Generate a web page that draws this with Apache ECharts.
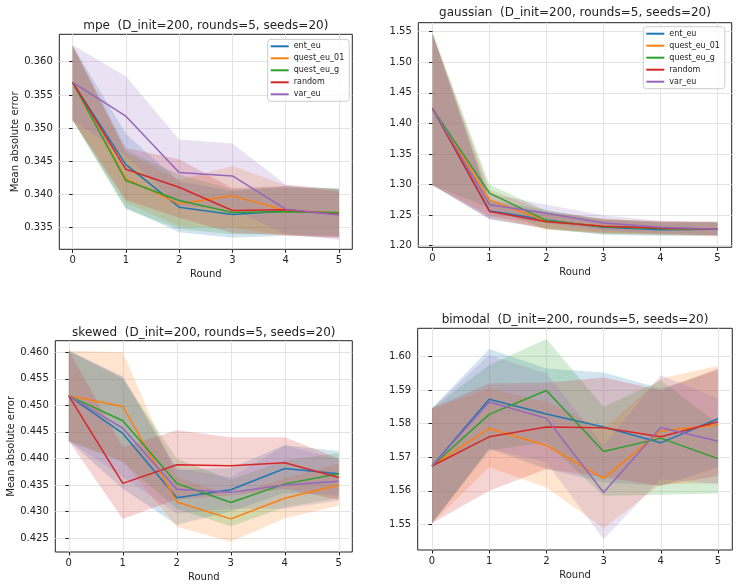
<!DOCTYPE html>
<html>
<head>
<meta charset="utf-8">
<title>Mean absolute error per round</title>
<script src="https://cdn.jsdelivr.net/npm/echarts@6/dist/echarts.min.js"></script>
<style>
  html, body { margin: 0; padding: 0; background: #fff; }
  #chart { width: 739px; height: 587px; }
</style>
</head>
<body>
<div id="chart"></div>
<script>
// data (rows follow methods order)
const rounds = [0, 1, 2, 3, 4, 5]
const methods = ['ent_eu', 'quest_eu_01', 'quest_eu_g', 'random', 'var_eu']
const titles = [
  'mpe  (D_init=200, rounds=5, seeds=20)',
  'gaussian  (D_init=200, rounds=5, seeds=20)',
  'skewed  (D_init=200, rounds=5, seeds=20)',
  'bimodal  (D_init=200, rounds=5, seeds=20)',
]

const mpeTicks = [0.335, 0.340, 0.345, 0.350, 0.355, 0.360]
const mpeMean = [
  [0.3569, 0.3445, 0.3381, 0.3370, 0.3375, 0.3371],
  [0.3569, 0.3424, 0.3386, 0.3398, 0.3376, 0.3372],
  [0.3569, 0.3421, 0.3391, 0.3373, 0.3374, 0.3373],
  [0.3569, 0.3438, 0.3411, 0.3376, 0.3377, 0.3370],
  [0.3569, 0.3518, 0.3433, 0.3428, 0.3378, 0.3369],
]
const mpeLower = [
  [0.3512, 0.3380, 0.3343, 0.3335, 0.3338, 0.3336],
  [0.3512, 0.3388, 0.3352, 0.3350, 0.3338, 0.3336],
  [0.3512, 0.3378, 0.3348, 0.3340, 0.3340, 0.3338],
  [0.3512, 0.3392, 0.3365, 0.3342, 0.3339, 0.3334],
  [0.3512, 0.3458, 0.3383, 0.3378, 0.3340, 0.3332],
]
const mpeUpper = [
  [0.3624, 0.3491, 0.3420, 0.3405, 0.3413, 0.3408],
  [0.3624, 0.3463, 0.3422, 0.3443, 0.3414, 0.3408],
  [0.3624, 0.3466, 0.3430, 0.3408, 0.3410, 0.3410],
  [0.3624, 0.3470, 0.3453, 0.3410, 0.3413, 0.3405],
  [0.3625, 0.3578, 0.3483, 0.3477, 0.3415, 0.3408],
]

const gaussTicks = [1.20, 1.25, 1.30, 1.35, 1.40, 1.45, 1.50, 1.55]
const gaussMean = [
  [1.424, 1.257, 1.242, 1.230, 1.226, 1.227],
  [1.424, 1.275, 1.240, 1.232, 1.228, 1.227],
  [1.424, 1.286, 1.241, 1.231, 1.228, 1.227],
  [1.424, 1.256, 1.239, 1.232, 1.229, 1.227],
  [1.424, 1.267, 1.253, 1.237, 1.230, 1.227],
]
const gaussLower = [
  [1.299, 1.243, 1.228, 1.218, 1.216, 1.216],
  [1.299, 1.250, 1.226, 1.220, 1.218, 1.215],
  [1.299, 1.262, 1.227, 1.219, 1.218, 1.217],
  [1.299, 1.244, 1.228, 1.221, 1.219, 1.217],
  [1.299, 1.247, 1.237, 1.225, 1.220, 1.217],
]
const gaussUpper = [
  [1.547, 1.275, 1.258, 1.242, 1.238, 1.238],
  [1.547, 1.292, 1.256, 1.244, 1.239, 1.239],
  [1.548, 1.300, 1.257, 1.244, 1.239, 1.239],
  [1.547, 1.272, 1.254, 1.243, 1.240, 1.238],
  [1.546, 1.285, 1.267, 1.250, 1.241, 1.239],
]

const skewTicks = [0.425, 0.430, 0.435, 0.440, 0.445, 0.450, 0.455, 0.460]
const skewMean = [
  [0.4518, 0.4447, 0.4326, 0.4341, 0.4381, 0.4371],
  [0.4518, 0.4498, 0.4318, 0.4286, 0.4325, 0.4350],
  [0.4518, 0.4471, 0.4353, 0.4317, 0.4352, 0.4371],
  [0.4518, 0.4353, 0.4388, 0.4386, 0.4392, 0.4364],
  [0.4518, 0.4457, 0.4342, 0.4336, 0.4350, 0.4357],
]
const skewLower = [
  [0.4433, 0.4343, 0.4275, 0.4300, 0.4335, 0.4330],
  [0.4433, 0.4395, 0.4271, 0.4243, 0.4287, 0.4311],
  [0.4433, 0.4393, 0.4305, 0.4272, 0.4308, 0.4325],
  [0.4433, 0.4286, 0.4323, 0.4330, 0.4343, 0.4322],
  [0.4433, 0.4365, 0.4296, 0.4305, 0.4305, 0.4320],
]
const skewUpper = [
  [0.4603, 0.4553, 0.4378, 0.4382, 0.4425, 0.4414],
  [0.4603, 0.4600, 0.4365, 0.4330, 0.4362, 0.4390],
  [0.4603, 0.4550, 0.4400, 0.4360, 0.4396, 0.4410],
  [0.4603, 0.4421, 0.4453, 0.4440, 0.4440, 0.4400],
  [0.4603, 0.4555, 0.4382, 0.4364, 0.4425, 0.4398],
]

const bimoTicks = [1.55, 1.56, 1.57, 1.58, 1.59, 1.60]
const bimoMean = [
  [1.5674, 1.5873, 1.5829, 1.5790, 1.5743, 1.5815],
  [1.5674, 1.5786, 1.5735, 1.5637, 1.5778, 1.5797],
  [1.5674, 1.5828, 1.5899, 1.5717, 1.5757, 1.5696],
  [1.5674, 1.5761, 1.5790, 1.5788, 1.5761, 1.5806],
  [1.5674, 1.5865, 1.5816, 1.5595, 1.5789, 1.5748],
]
const bimoLower = [
  [1.5503, 1.5725, 1.5665, 1.5625, 1.5615, 1.5670],
  [1.5503, 1.5670, 1.5610, 1.5488, 1.5620, 1.5622],
  [1.5503, 1.5720, 1.5745, 1.5585, 1.5588, 1.5592],
  [1.5503, 1.5600, 1.5665, 1.5640, 1.5615, 1.5645],
  [1.5503, 1.5725, 1.5685, 1.5455, 1.5635, 1.5620],
]
const bimoUpper = [
  [1.5846, 1.6023, 1.5965, 1.5953, 1.5905, 1.5960],
  [1.5846, 1.5905, 1.5865, 1.5785, 1.5935, 1.5973],
  [1.5846, 1.5975, 1.6053, 1.5850, 1.5930, 1.5800],
  [1.5846, 1.5920, 1.5922, 1.5938, 1.5900, 1.5965],
  [1.5846, 1.6005, 1.5950, 1.5735, 1.5945, 1.5875],
]

// layout / style
const colors = ['#1f77b4', '#ff7f0e', '#2ca02c', '#d62728', '#9467bd']
const font = 'DejaVu Sans'
const ink = '#222222'
const panels = [
  { mean: mpeMean, lower: mpeLower, upper: mpeUpper, ticks: mpeTicks, digits: 3,
    grid: [59.3, 34.3, 293, 215], yRange: [0.33175, 0.36413], titleY: 25.5, yName: true },
  { mean: gaussMean, lower: gaussLower, upper: gaussUpper, ticks: gaussTicks, digits: 2,
    grid: [418.3, 22.7, 313.4, 224.6], yRange: [1.1974, 1.5647], titleY: 12.5, yName: false },
  { mean: skewMean, lower: skewLower, upper: skewUpper, ticks: skewTicks, digits: 3,
    grid: [55.3, 340.7, 297, 211.3], yRange: [0.42236, 0.46219], titleY: 332, yName: true },
  { mean: bimoMean, lower: bimoLower, upper: bimoUpper, ticks: bimoTicks, digits: 2,
    grid: [417.7, 328.3, 314.6, 221.7], yRange: [1.54233, 1.60847], titleY: 319.7, yName: false },
]

// one polygon per band (like fill_between), built through the axis scales
function bandRenderer(lower, upper, color) {
  return function (params, api) {
    if (params.dataIndex !== 0) return null
    const top = rounds.map((r, k) => api.coord([r, upper[k]]))
    const bottom = rounds.map((r, k) => api.coord([r, lower[k]])).reverse()
    return {
      type: 'polygon',
      shape: { points: top.concat(bottom) },
      style: { fill: color, opacity: 0.2 },
      silent: true,
    }
  }
}

const series = []
panels.forEach((p, i) => {
  // shaded bands first, so every line sits on top of them
  methods.forEach((m, j) => {
    series.push({
      type: 'custom', xAxisIndex: i, yAxisIndex: i, z: 1, silent: true,
      data: rounds.map((r, k) => [r, p.lower[j][k], p.upper[j][k]]),
      encode: { x: 0, y: [1, 2] },
      renderItem: bandRenderer(p.lower[j], p.upper[j], colors[j]),
    })
  })
  methods.forEach((m, j) => {
    series.push({
      name: m, type: 'line', xAxisIndex: i, yAxisIndex: i,
      data: rounds.map((r, k) => [r, p.mean[j][k]]),
      symbol: 'none', z: 3,
      lineStyle: { width: 1.5, color: colors[j] },
      itemStyle: { color: colors[j] },
    })
  })
})

const legendStyle = {
  data: methods, orient: 'vertical', icon: 'rect',
  itemWidth: 18, itemHeight: 2, itemGap: 4, selectedMode: false,
  textStyle: { fontSize: 8, fontFamily: font, color: ink },
  backgroundColor: 'rgba(255,255,255,0.8)',
  borderColor: '#cccccc', borderWidth: 1, borderRadius: 3,
  padding: [3, 5, 3, 3],
}

const option = {
  backgroundColor: '#fff',
  animation: false,
  title: panels.map((p, i) => ({
    text: titles[i],
    left: p.grid[0] + p.grid[2] / 2,
    top: p.titleY - 5.5,
    textAlign: 'center',
    padding: 0,
    textStyle: { fontSize: 12, fontWeight: 'normal', fontFamily: font, color: ink },
  })),
  legend: [
    Object.assign({ left: 267.7, top: 39.3 }, legendStyle),
    Object.assign({ left: 643.3, top: 26.7 }, legendStyle),
  ],
  grid: panels.map((p) => ({
    left: p.grid[0], top: p.grid[1], width: p.grid[2], height: p.grid[3],
    show: true, borderColor: ink, borderWidth: 1, backgroundColor: 'transparent',
  })),
  xAxis: panels.map((p, i) => ({
    type: 'value', gridIndex: i, min: -0.25, max: 5.25,
    name: 'Round', nameLocation: 'middle', nameGap: 20,
    nameTextStyle: { fontSize: 10, fontFamily: font, color: ink },
    axisLine: { show: false },
    axisTick: { show: true, length: 3.5, customValues: rounds, lineStyle: { color: ink } },
    axisLabel: { customValues: rounds, fontSize: 10, fontFamily: font, color: ink, margin: 6 },
    splitLine: { show: true, lineStyle: { color: '#e4e4e4', width: 1 } },
  })),
  yAxis: panels.map((p, i) => ({
    type: 'value', gridIndex: i, min: p.yRange[0], max: p.yRange[1],
    name: p.yName ? 'Mean absolute error' : '', nameLocation: 'middle', nameGap: 37,
    nameTextStyle: { fontSize: 10, fontFamily: font, color: ink },
    axisLine: { show: false },
    axisTick: { show: true, length: 3.5, customValues: p.ticks, lineStyle: { color: ink } },
    axisLabel: {
      customValues: p.ticks, fontSize: 10, fontFamily: font, color: ink, margin: 6.5,
      formatter: (v) => v.toFixed(p.digits),
    },
    splitLine: { show: true, lineStyle: { color: '#e4e4e4', width: 1 } },
  })),
  series: series,
}

const chart = echarts.init(document.getElementById('chart'))
chart.setOption(option)
</script>
</body>
</html>
